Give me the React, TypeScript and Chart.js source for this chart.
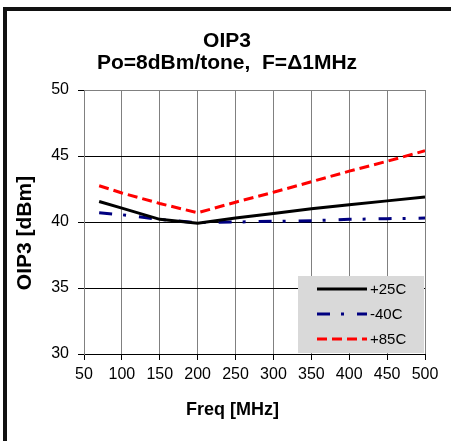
import React, { useEffect, useRef } from "react";
import { Chart, registerables } from "chart.js";

Chart.register(...registerables);

const freqs = [70, 100, 150, 200, 250, 300, 350, 400, 450, 500];
const oip3Plus25 = [41.55, 41.05, 40.2, 39.9, 40.3, 40.65, 41.0, 41.3, 41.6, 41.9];
const oip3Minus40 = [40.7, 40.55, 40.2, 39.95, 40.0, 40.05, 40.1, 40.2, 40.25, 40.3];
const oip3Plus85 = [42.75, 42.2, 41.4, 40.7, 41.5, 42.25, 43.05, 43.85, 44.6, 45.4];
const seriesLabels = ["+25C", "-40C", "+85C"];
const titleLines = ["OIP3", "Po=8dBm/tone,  F=Δ1MHz"];
const xTitle = "Freq [MHz]";
const yTitle = "OIP3 [dBm]";
const xMin = 50;
const xMax = 500;
const xStep = 50;
const yMin = 30;
const yMax = 50;
const yStep = 5;

const FONT = "'Liberation Sans', Arial, Helvetica, sans-serif";

const boxLegend = {
  id: "boxLegend",
  afterDatasetsDraw(chart: any) {
    const { ctx, chartArea } = chart;
    const w = 126;
    const h = 77;
    const x0 = chartArea.right - w - 1;
    const y0 = chartArea.bottom - h - 1;
    ctx.save();
    ctx.fillStyle = "#d9d9d9";
    ctx.fillRect(x0, y0, w, h);
    chart.data.datasets.forEach((ds: any, i: number) => {
      const y = y0 + 13 + i * 25;
      ctx.beginPath();
      ctx.strokeStyle = ds.borderColor;
      ctx.lineWidth = ds.borderWidth;
      ctx.setLineDash(ds.borderDash || []);
      ctx.lineCap = "butt";
      ctx.moveTo(x0 + 19, y);
      ctx.lineTo(x0 + 69, y);
      ctx.stroke();
      ctx.setLineDash([]);
      ctx.fillStyle = "#000";
      ctx.font = `15px ${FONT}`;
      ctx.textAlign = "left";
      ctx.textBaseline = "middle";
      ctx.fillText(ds.label, x0 + 72, y + 1);
    });
    ctx.restore();
  },
};

const textPlugin = {
  id: "textPlugin",
  afterDraw(chart: any) {
    const { ctx, chartArea } = chart;
    ctx.save();
    ctx.fillStyle = "#000";
    ctx.textAlign = "center";
    ctx.textBaseline = "middle";
    // chart title
    ctx.font = `bold 21px ${FONT}`;
    titleLines.forEach((line, i) => {
      ctx.fillText(line, 227, chartArea.top - 49 + i * 22);
    });
    // x axis title
    ctx.font = `bold 18px ${FONT}`;
    ctx.fillText(xTitle, (chartArea.left + chartArea.right) / 2 - 22, chartArea.bottom + 56);
    // y axis title
    ctx.translate(25, (chartArea.top + chartArea.bottom) / 2 + 11);
    ctx.rotate(-Math.PI / 2);
    ctx.font = `bold 21px ${FONT}`;
    ctx.fillText(yTitle, 0, 0);
    ctx.restore();
  },
};

export default function App() {
  const ref = useRef<HTMLCanvasElement>(null);

  useEffect(() => {
    if (!ref.current) return;
    const toPts = (ys: number[]) => freqs.map((x, i) => ({ x, y: ys[i] }));
    const chart = new Chart(ref.current, {
      type: "line",
      data: {
        datasets: [
          {
            label: seriesLabels[0],
            data: toPts(oip3Plus25),
            borderColor: "#000000",
            borderWidth: 3,
            pointRadius: 0,
            tension: 0,
          },
          {
            label: seriesLabels[1],
            data: toPts(oip3Minus40),
            borderColor: "#000080",
            borderWidth: 3,
            borderDash: [13, 11, 3, 13],
            pointRadius: 0,
            tension: 0,
          },
          {
            label: seriesLabels[2],
            data: toPts(oip3Plus85),
            borderColor: "#ff0000",
            borderWidth: 3,
            borderDash: [10, 5],
            pointRadius: 0,
            tension: 0,
          },
        ],
      },
      options: {
        responsive: false,
        animation: false,
        devicePixelRatio: 1,
        layout: { padding: { left: 0, right: 26, top: 90, bottom: 0 } },
        plugins: {
          legend: { display: false },
          tooltip: { enabled: false },
          title: { display: false },
        },
        scales: {
          x: {
            type: "linear",
            min: xMin,
            max: xMax,
            afterFit(scale: any) {
              scale.height = 87;
            },
            ticks: {
              stepSize: xStep,
              color: "#000",
              font: { family: FONT, size: 16 },
              padding: 5,
              maxRotation: 0,
            },
            grid: {
              color: "#808080",
              tickColor: "#000",
              tickLength: 6,
              drawTicks: true,
            },
            border: { color: "#000", width: 1 },
          },
          y: {
            type: "linear",
            min: yMin,
            max: yMax,
            afterFit(scale: any) {
              scale.width = 84;
            },
            ticks: {
              stepSize: yStep,
              color: "#000",
              font: { family: FONT, size: 16 },
              padding: 9,
            },
            grid: {
              color: (c: any) => (c.tick && c.tick.value === yMax ? "#808080" : "#000"),
              tickColor: "#000",
              tickLength: 6,
              drawTicks: true,
            },
            border: { color: "#808080", width: 1 },
          },
        },
      },
      plugins: [boxLegend, textPlugin],
    });
    return () => chart.destroy();
  }, []);

  return (
    <div
      style={{
        position: "fixed",
        left: 0,
        top: 0,
        width: 451,
        height: 441,
        background: "#fff",
        overflow: "hidden",
      }}
    >
      <div
        style={{
          position: "absolute",
          left: 3,
          top: 7,
          width: 460,
          height: 450,
          borderTop: "4px solid #111",
          borderLeft: "4px solid #111",
        }}
      />
      <canvas
        ref={ref}
        width={451}
        height={441}
        style={{ position: "absolute", left: 0, top: 0, width: 451, height: 441 }}
      />
    </div>
  );
}
